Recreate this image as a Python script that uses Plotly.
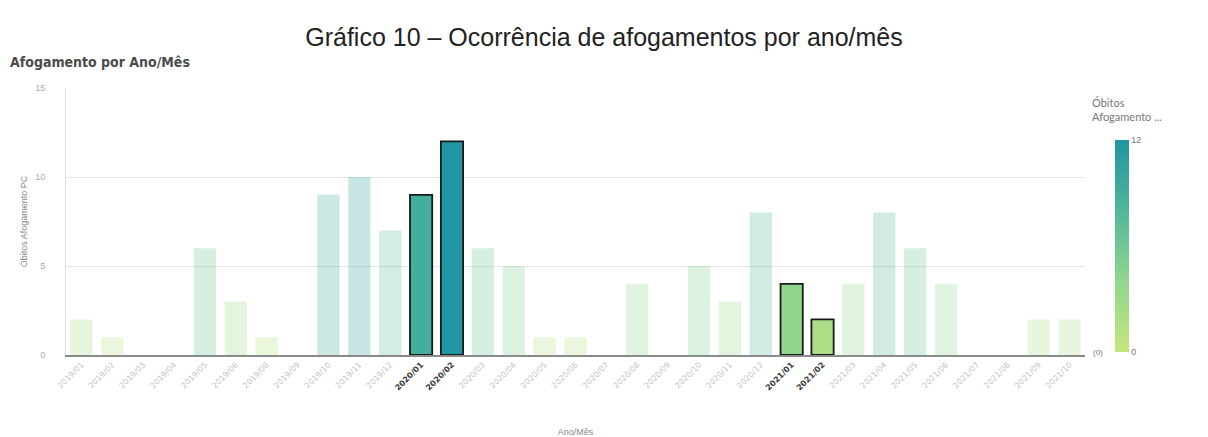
import plotly.graph_objects as go

# Monthly drowning deaths (Óbitos Afogamento PC)
meses = [
    "2019/01", "2019/02", "2019/03", "2019/04", "2019/05", "2019/06", "2019/08",
    "2019/09", "2019/10", "2019/11", "2019/12", "2020/01", "2020/02", "2020/03",
    "2020/04", "2020/05", "2020/06", "2020/07", "2020/08", "2020/09", "2020/10",
    "2020/11", "2020/12", "2021/01", "2021/02", "2021/03", "2021/04", "2021/05",
    "2021/06", "2021/07", "2021/08", "2021/09", "2021/10",
]
obitos = [2, 1, 0, 0, 6, 3, 1, 0, 9, 10, 7, 9, 12, 6, 5, 1, 1, 0, 4, 0, 5,
          3, 8, 4, 2, 4, 8, 6, 4, 0, 0, 2, 2]
# Months currently selected in the sheet
selecionados = ["2020/01", "2020/02", "2021/01", "2021/02"]

escala = [[0.0, "#c6e67e"], [0.35, "#8dd58e"], [0.7, "#4cb39b"], [1.0, "#1f96a2"]]

sel = [m in selecionados for m in meses]
opac = [1.0 if s else 0.28 for s in sel]
lw = [1.8 if s else 0 for s in sel]

ticktext = [
    f"<span style='color:#3a3a3a'><b>{m}</b></span>" if s else m
    for m, s in zip(meses, sel)
]

fig = go.Figure()
fig.add_trace(go.Bar(
    x=meses,
    y=obitos,
    marker=dict(
        color=obitos,
        colorscale=escala,
        cmin=0,
        cmax=12,
        opacity=opac,
        line=dict(color="#1a1a1a", width=lw),
        showscale=True,
        colorbar=dict(
            tickvals=[0, 12],
            ticktext=["0", "12"],
            tickfont=dict(size=9, color="#777"),
            thickness=14,
            outlinewidth=0,
            ticks="",
            len=212,
            lenmode="pixels",
            y=0.011,
            yanchor="bottom",
            x=1.029,
            xanchor="left",
            xpad=0,
            ypad=0,
        ),
    ),
    hovertemplate="%{x}: %{y}<extra></extra>",
))

fig.update_layout(
    width=1208,
    height=437,
    margin=dict(l=66, r=123, t=88, b=82),
    paper_bgcolor="white",
    plot_bgcolor="white",
    bargap=0.28,
    showlegend=False,
    font=dict(family="Liberation Sans", color="#777"),
    title=dict(
        text="Gráfico 10 – Ocorrência de afogamentos por ano/mês",
        x=604 / 1208, xanchor="center", xref="container",
        y=1 - 37 / 437, yanchor="middle", yref="container",
        font=dict(family="Liberation Sans", size=25, color="#222"),
    ),
    xaxis=dict(
        tickmode="array",
        tickvals=meses,
        ticktext=ticktext,
        tickangle=-45,
        tickfont=dict(size=8, color="#c4c4c4", family="DejaVu Sans"),
        showline=True,
        linecolor="#8a8a8a",
        linewidth=2,
        showgrid=False,
        ticks="",
        automargin=False,
        title=dict(text="Ano/Mês", font=dict(size=9, color="#888"), standoff=38),
    ),
    yaxis=dict(
        range=[0, 15],
        tickvals=[0, 5, 10, 15],
        tickfont=dict(size=9, color="#aaa"),
        showgrid=True,
        gridcolor="#e6e6e6",
        gridwidth=1,
        zeroline=False,
        showline=True,
        linecolor="#e0e0e0",
        ticks="",
        ticklabelstandoff=18,
        automargin=False,
        title=dict(text="Óbitos Afogamento PC", font=dict(size=9, color="#888"), standoff=6),
    ),
)

# Panel heading in the top-left corner
fig.add_annotation(
    text="<b>Afogamento por Ano/Mês</b>",
    xref="paper", yref="paper", x=-58 / 1019, y=1 + 26 / 267,
    xanchor="left", yanchor="middle", showarrow=False,
    font=dict(size=14, color="#4a4a4a", family="DejaVu Sans Condensed"),
)
# Colour legend heading
fig.add_annotation(
    text="Óbitos<br>Afogamento ...",
    xref="paper", yref="paper", x=1 + 5 / 1019, y=0.86,
    xanchor="left", yanchor="bottom", align="left", showarrow=False,
    font=dict(size=11, color="#777", family="Lato"),
)
# Null-value marker at the bottom of the colour legend
fig.add_annotation(
    text="(0)",
    xref="paper", yref="paper", x=1 + 6 / 1019, y=0.01,
    xanchor="left", yanchor="middle", showarrow=False,
    font=dict(size=8, color="#777"),
)

fig.write_html("out.html")
